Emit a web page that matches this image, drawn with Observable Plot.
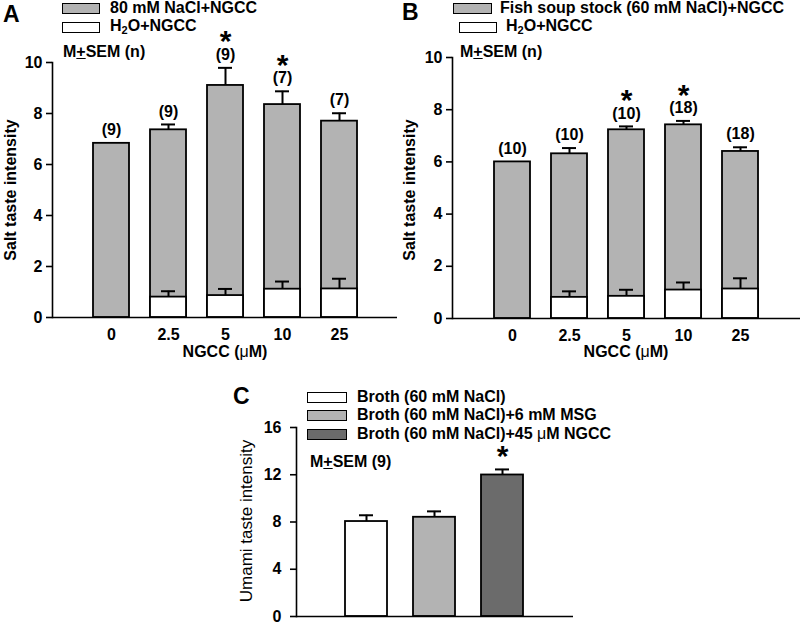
<!DOCTYPE html>
<html><head><meta charset="utf-8">
<script src="https://cdn.jsdelivr.net/npm/d3@7"></script>
<script src="https://cdn.jsdelivr.net/npm/@observablehq/plot@0.6"></script>
<style>
body{margin:0;background:#fff;font-family:"Liberation Sans",Arial,sans-serif;}
#wrap{position:relative;width:800px;height:624px;overflow:hidden;}
.abs{position:absolute;white-space:nowrap;font-weight:bold;color:#000;line-height:1;transform:translateY(-50%);}
.sw{position:absolute;box-sizing:border-box;border:1.6px solid #000;}
.pan{position:absolute;}
</style></head>
<body><div id="wrap"></div>
<script>
// ---- Data ----
const conc = ["0", "2.5", "5", "10", "25"];
// Panel A
const aSalt = [6.83, 7.36, 9.10, 8.35, 7.70];
const aSaltSem = [0, 0.21, 0.69, 0.52, 0.31];
const aWater = [null, 0.80, 0.86, 1.11, 1.12];
const aWaterSem = [null, 0.23, 0.26, 0.30, 0.40];
const aN = ["(9)", "(9)", "(9)", "(7)", "(7)"];
const aSig = [false, false, true, true, false];
// Panel B
const bSoup = [6.00, 6.31, 7.23, 7.42, 6.40];
const bSoupSem = [0, 0.22, 0.13, 0.15, 0.16];
const bWater = [null, 0.81, 0.85, 1.09, 1.13];
const bWaterSem = [null, 0.23, 0.25, 0.29, 0.41];
const bN = ["(10)", "(10)", "(10)", "(18)", "(18)"];
const bSig = [false, false, true, true, false];
// Panel C
const cCats = ["Broth (60 mM NaCl)", "Broth (60 mM NaCl)+6 mM MSG", "Broth (60 mM NaCl)+45 \u03bcM NGCC"];
const cVals = [8.04, 8.40, 11.98];
const cSem = [0.53, 0.50, 0.47];
const cSig = [false, false, true];
const cColors = ["#ffffff", "#b3b3b3", "#6b6b6b"];
const saltTicks = [0, 2, 4, 6, 8, 10];
const umamiTicks = [0, 4, 8, 12, 16];

const GRAY = "#b3b3b3";
const FONT = "Liberation Sans, Arial, sans-serif";
const wrap = document.getElementById("wrap");

function place(node, left, top) {
  const d = document.createElement("div");
  d.className = "pan"; d.style.left = left + "px"; d.style.top = top + "px";
  d.appendChild(node); wrap.appendChild(d);
}
function txt(html, left, cy, size, weight) {
  const d = document.createElement("div");
  d.className = "abs"; d.innerHTML = html;
  d.style.left = left + "px"; d.style.top = cy + "px";
  d.style.fontSize = size + "px";
  if (weight) d.style.fontWeight = weight;
  wrap.appendChild(d);
  return d;
}
function vlabel(text, cx, cy, size, weight) {
  const d = txt(text, cx, cy, size, weight);
  d.style.transform = "translate(-50%,-50%) rotate(-90deg)";
  return d;
}
function swatch(left, top, w, h, color) {
  const d = document.createElement("div");
  d.className = "sw"; d.style.left = left + "px"; d.style.top = top + "px";
  d.style.width = w + "px"; d.style.height = h + "px"; d.style.background = color;
  wrap.appendChild(d);
}

function saltPanel(main, mainSem, water, waterSem, nLab, sig, opts) {
  const mainD = conc.map((c, i) => ({c, v: main[i], s: mainSem[i], n: nLab[i], sig: sig[i]}));
  const waterD = conc.map((c, i) => ({c, v: water[i], s: waterSem[i]})).filter(d => d.v != null);
  const errMain = mainD.filter(d => d.s > 0);
  return Plot.plot({
    width: opts.width, height: opts.height,
    marginLeft: opts.ml, marginRight: opts.mr, marginTop: opts.mt, marginBottom: opts.mb,
    style: {fontFamily: FONT, fontSize: "16px", fontWeight: "bold", color: "#000", background: "transparent", overflow: "visible"},
    x: {domain: conc, paddingInner: 0.37, paddingOuter: opts.po, label: null},
    y: {domain: [0, 10], label: null},
    marks: [
      Plot.barY(mainD, {x: "c", y: "v", fill: GRAY, stroke: "#000", strokeWidth: 1.8}),
      Plot.barY(waterD, {x: "c", y: "v", fill: "#fff", stroke: "#000", strokeWidth: 1.8}),
      Plot.ruleX(errMain, {x: "c", y1: "v", y2: d => d.v + d.s, stroke: "#000", strokeWidth: 2}),
      Plot.tickY(errMain, {x: "c", y: d => d.v + d.s, stroke: "#000", strokeWidth: 2, insetLeft: 11, insetRight: 11}),
      Plot.ruleX(waterD, {x: "c", y1: "v", y2: d => d.v + d.s, stroke: "#000", strokeWidth: 2}),
      Plot.tickY(waterD, {x: "c", y: d => d.v + d.s, stroke: "#000", strokeWidth: 2, insetLeft: 11, insetRight: 11}),
      Plot.text(mainD, {x: "c", y: d => d.v + d.s, text: "n", dy: -13, fontSize: 16, fontWeight: "bold", fill: "#000"}),
      Plot.text(mainD.filter(d => d.sig), {x: "c", y: d => d.v + d.s, text: () => "*", dy: -26, fontSize: 30, fontWeight: "bold", fill: "#000"}),
      Plot.ruleY([0], {stroke: "#000", strokeWidth: 1.6}),
      Plot.frame({anchor: "left", stroke: "#000", strokeWidth: 1.6}),
      Plot.axisY({ticks: saltTicks, tickSize: 6, tickPadding: 4, tickFormat: d => d, fontSize: 16, fontWeight: "bold",
        label: null, strokeWidth: 1.6}),
      Plot.axisX({tickSize: 0, tickPadding: 11, fontSize: 16, fontWeight: "bold", label: null})
    ]
  });
}

// Panel A
place(saltPanel(aSalt, aSaltSem, aWater, aWaterSem, aN, aSig,
  {width: 400, height: 365, ml: 52, mr: 3, mt: 62, mb: 48, po: 0.7}), 0, 0);
// Panel B
place(saltPanel(bSoup, bSoupSem, bWater, bWaterSem, bN, bSig,
  {width: 400, height: 365, ml: 52, mr: 0, mt: 57, mb: 47, po: 0.72}), 400, 0);

// Axis titles for A and B
vlabel("Salt taste intensity", 11, 190, 16);
txt("NGCC (<span style='font-weight:normal'>\u03bc</span>M)", 225, 352, 16).style.transform = "translate(-50%,-50%)";
vlabel("Salt taste intensity", 410, 190, 16);
txt("NGCC (<span style='font-weight:normal'>\u03bc</span>M)", 626, 352, 16).style.transform = "translate(-50%,-50%)";

// Panel C
const cData = cCats.map((c, i) => ({c, v: cVals[i], s: cSem[i], sig: cSig[i]}));
place(Plot.plot({
  width: 373, height: 244, marginLeft: 96, marginRight: 0, marginTop: 47, marginBottom: 8,
  style: {fontFamily: FONT, fontSize: "16px", fontWeight: "bold", color: "#000", background: "transparent", overflow: "visible"},
  x: {domain: cCats, paddingInner: 0.38, paddingOuter: 0.72, axis: null},
  y: {domain: [0, 16], label: null},
  color: {domain: cCats, range: cColors},
  marks: [
    Plot.barY(cData, {x: "c", y: "v", fill: "c", stroke: "#000", strokeWidth: 1.8}),
    Plot.ruleX(cData, {x: "c", y1: "v", y2: d => d.v + d.s, stroke: "#000", strokeWidth: 2}),
    Plot.tickY(cData, {x: "c", y: d => d.v + d.s, stroke: "#000", strokeWidth: 2, insetLeft: 14, insetRight: 14}),
    Plot.text(cData.filter(d => d.sig), {x: "c", y: d => d.v + d.s, text: () => "*", dy: -13, fontSize: 30, fontWeight: "bold", fill: "#000"}),
    Plot.ruleY([0], {stroke: "#000", strokeWidth: 1.6}),
    Plot.frame({anchor: "left", stroke: "#000", strokeWidth: 1.6}),
    Plot.axisY({ticks: umamiTicks, tickSize: 6, tickPadding: 9, fontSize: 16, fontWeight: "bold",
      label: null, strokeWidth: 1.6})
  ]
}), 200, 380);
vlabel("Umami taste intensity", 246, 521, 17, "normal");

// Panel letters
txt("A", 3, 14, 23);
txt("B", 402, 12, 23);
txt("C", 233, 396, 23);

// Legends A
swatch(62, 3, 38, 11, GRAY);
txt("80 mM NaCl+NGCC", 110, 8, 16);
swatch(62, 22, 38, 11, "#fff");
txt("H<sub style='font-size:11px;vertical-align:-3px'>2</sub>O+NGCC", 110, 27, 16);
txt("M<u>+</u>SEM (n)", 63, 52, 16);
// Legends B
swatch(453, 3, 39, 11, GRAY);
txt("Fish soup stock (60 mM NaCl)+NGCC", 500, 8, 16);
swatch(459, 22, 38, 11, "#fff");
txt("H<sub style='font-size:11px;vertical-align:-3px'>2</sub>O+NGCC", 506, 27, 16);
txt("M<u>+</u>SEM (n)", 460, 52, 16);
// Legend C
const swTops = [392, 410, 429];
cCats.forEach((c, i) => {
  swatch(307, swTops[i], 40, 11, cColors[i]);
  txt(c.replace("\u03bcM", "<span style='font-weight:normal'>\u03bc</span>M"), 357, swTops[i] + 5, 16);
});
txt("M<u>+</u>SEM (9)", 310, 462, 16);
</script></body></html>
